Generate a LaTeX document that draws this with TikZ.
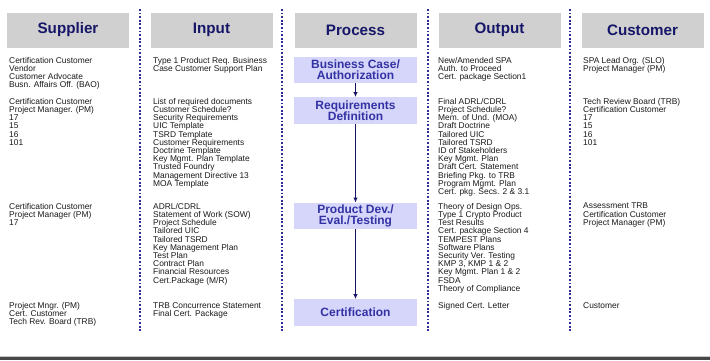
\documentclass[tikz,border=0pt]{standalone}
\usepackage{fontspec}
\setmainfont{Liberation Sans}
\usetikzlibrary{arrows.meta}

\definecolor{hdrfill}{RGB}{208,208,208}
\definecolor{hdrtext}{RGB}{22,22,105}
\definecolor{procfill}{RGB}{214,214,250}
\definecolor{proctext}{RGB}{50,50,165}
\definecolor{sepblue}{RGB}{45,45,150}
\definecolor{bodytext}{RGB}{25,25,25}

% let lines sit closer than the glyphs would allow
\newcommand{\tightlines}{\lineskiplimit=-10pt\relax}

\begin{document}
\begin{tikzpicture}[x=1pt, y=-1pt, >={Latex[length=5pt,width=4.5pt]},
    hdr/.style={fill=hdrfill, minimum width=122pt, minimum height=35pt, inner sep=0pt,
      text=hdrtext, font=\bfseries\fontsize{15.2}{17}\selectfont},
    proc/.style={fill=procfill, minimum width=123pt, minimum height=26.5pt, inner sep=0pt,
      align=center, text=proctext, font={\bfseries\fontsize{12}{11}\selectfont\tightlines}},
    txt/.style={anchor=north west, align=left, inner sep=0pt, text=bodytext,
      font={\fontsize{8.4}{8.2}\selectfont\tightlines}},
    sep/.style={sepblue, line width=2.2pt, dash pattern=on 1.8pt off 1.8pt}]
        \useasboundingbox (0,0) rectangle (710,360);

        % column heads
        \node[hdr] (Sup) at (68, 30) {Supplier};
        \node[hdr] (Inp) at (211.5, 30) {Input};
        \node[hdr] (Proc) at (355.5, 30) {Process};
        \node[hdr] (Out) at (499.5, 30) {Output};
        \node[hdr] (Cust) at (642.5, 30) {Customer};

        % dotted column separators
        \foreach \x in {140, 282, 428, 570}
          \draw[sep] (\x, 9) -- (\x, 331);

        % process steps
        \node[proc] (BC) at (355.5, 70) {Business Case/\\Authorization};
        \node[proc] (RD) at (355.5, 110.5) {Requirements\\Definition};
        \node[proc] (PD) at (355.5, 216) {Product Dev./\\Eval./Testing};
        \node[proc] (Cert) at (355.5, 312.5) {Certification};

        \draw[->, hdrtext, line width=1.4pt] (BC) to (RD);
        \draw[->, hdrtext, line width=1.4pt] (RD) to (PD);
        \draw[->, hdrtext, line width=1.4pt] (PD) to (Cert);

        % supplier column
        \node[txt] (Sup1) at (9, 57) {Certification Customer\\Vendor\\Customer Advocate\\Busn. Affairs Off. (BAO)};
        \node[txt] (Sup2) at (9, 98) {Certification Customer\\Project Manager. (PM)\\17\\15\\16\\101};
        \node[txt] (Sup3) at (9, 203) {Certification Customer\\Project Manager (PM)\\17};
        \node[txt] (Sup4) at (9, 302) {Project Mngr. (PM)\\Cert. Customer\\Tech Rev. Board (TRB)};

        % input column
        \node[txt] (Inp1) at (153, 57) {Type 1 Product Req. Business\\Case Customer Support Plan};
        \node[txt] (Inp2) at (153, 98) {List of required documents\\Customer Schedule?\\Security Requirements\\UIC Template\\TSRD Template\\Customer Requirements\\Doctrine Template\\Key Mgmt. Plan Template\\Trusted Foundry\\Management Directive 13\\MOA Template};
        \node[txt] (Inp3) at (153, 203) {ADRL/CDRL\\Statement of Work (SOW)\\Project Schedule\\Tailored UIC\\Tailored TSRD\\Key Management Plan\\Test Plan\\Contract Plan\\Financial Resources\\Cert.Package (M/R)};
        \node[txt] (Inp4) at (153, 302) {TRB Concurrence Statement\\Final Cert. Package};

        % output column
        \node[txt] (Out1) at (438, 57) {New/Amended SPA\\Auth. to Proceed\\Cert. package Section1};
        \node[txt] (Out2) at (438, 98) {Final ADRL/CDRL\\Project Schedule?\\Mem. of Und. (MOA)\\Draft Doctrine\\Tailored UIC\\Tailored TSRD\\ID of Stakeholders\\Key Mgmt. Plan\\Draft Cert. Statement\\Briefing Pkg. to TRB\\Program Mgmt. Plan\\Cert. pkg. Secs. 2 \& 3.1};
        \node[txt] (Out3) at (438, 203) {Theory of Design Ops.\\Type 1 Crypto Product\\Test Results\\Cert. package Section 4\\TEMPEST Plans\\Software Plans\\Security Ver. Testing\\KMP 3, KMP 1 \& 2\\Key Mgmt. Plan 1 \& 2\\FSDA\\Theory of Compliance};
        \node[txt] (Out4) at (438, 302) {Signed Cert. Letter};

        % customer column
        \node[txt] (Cust1) at (583, 57) {SPA Lead Org. (SLO)\\Project Manager (PM)};
        \node[txt] (Cust2) at (583, 98) {Tech Review Board (TRB)\\Certification Customer\\17\\15\\16\\101};
        \node[txt] (Cust3) at (583, 203) {Assessment TRB\\Certification Customer\\Project Manager (PM)};
        \node[txt] (Cust4) at (583, 302) {Customer};

        % footer bar
        \fill[gray!45] (0, 356) rectangle (710, 357);
        \fill[black!72] (0, 357) rectangle (710, 360);
      \end{tikzpicture}
\end{document}
